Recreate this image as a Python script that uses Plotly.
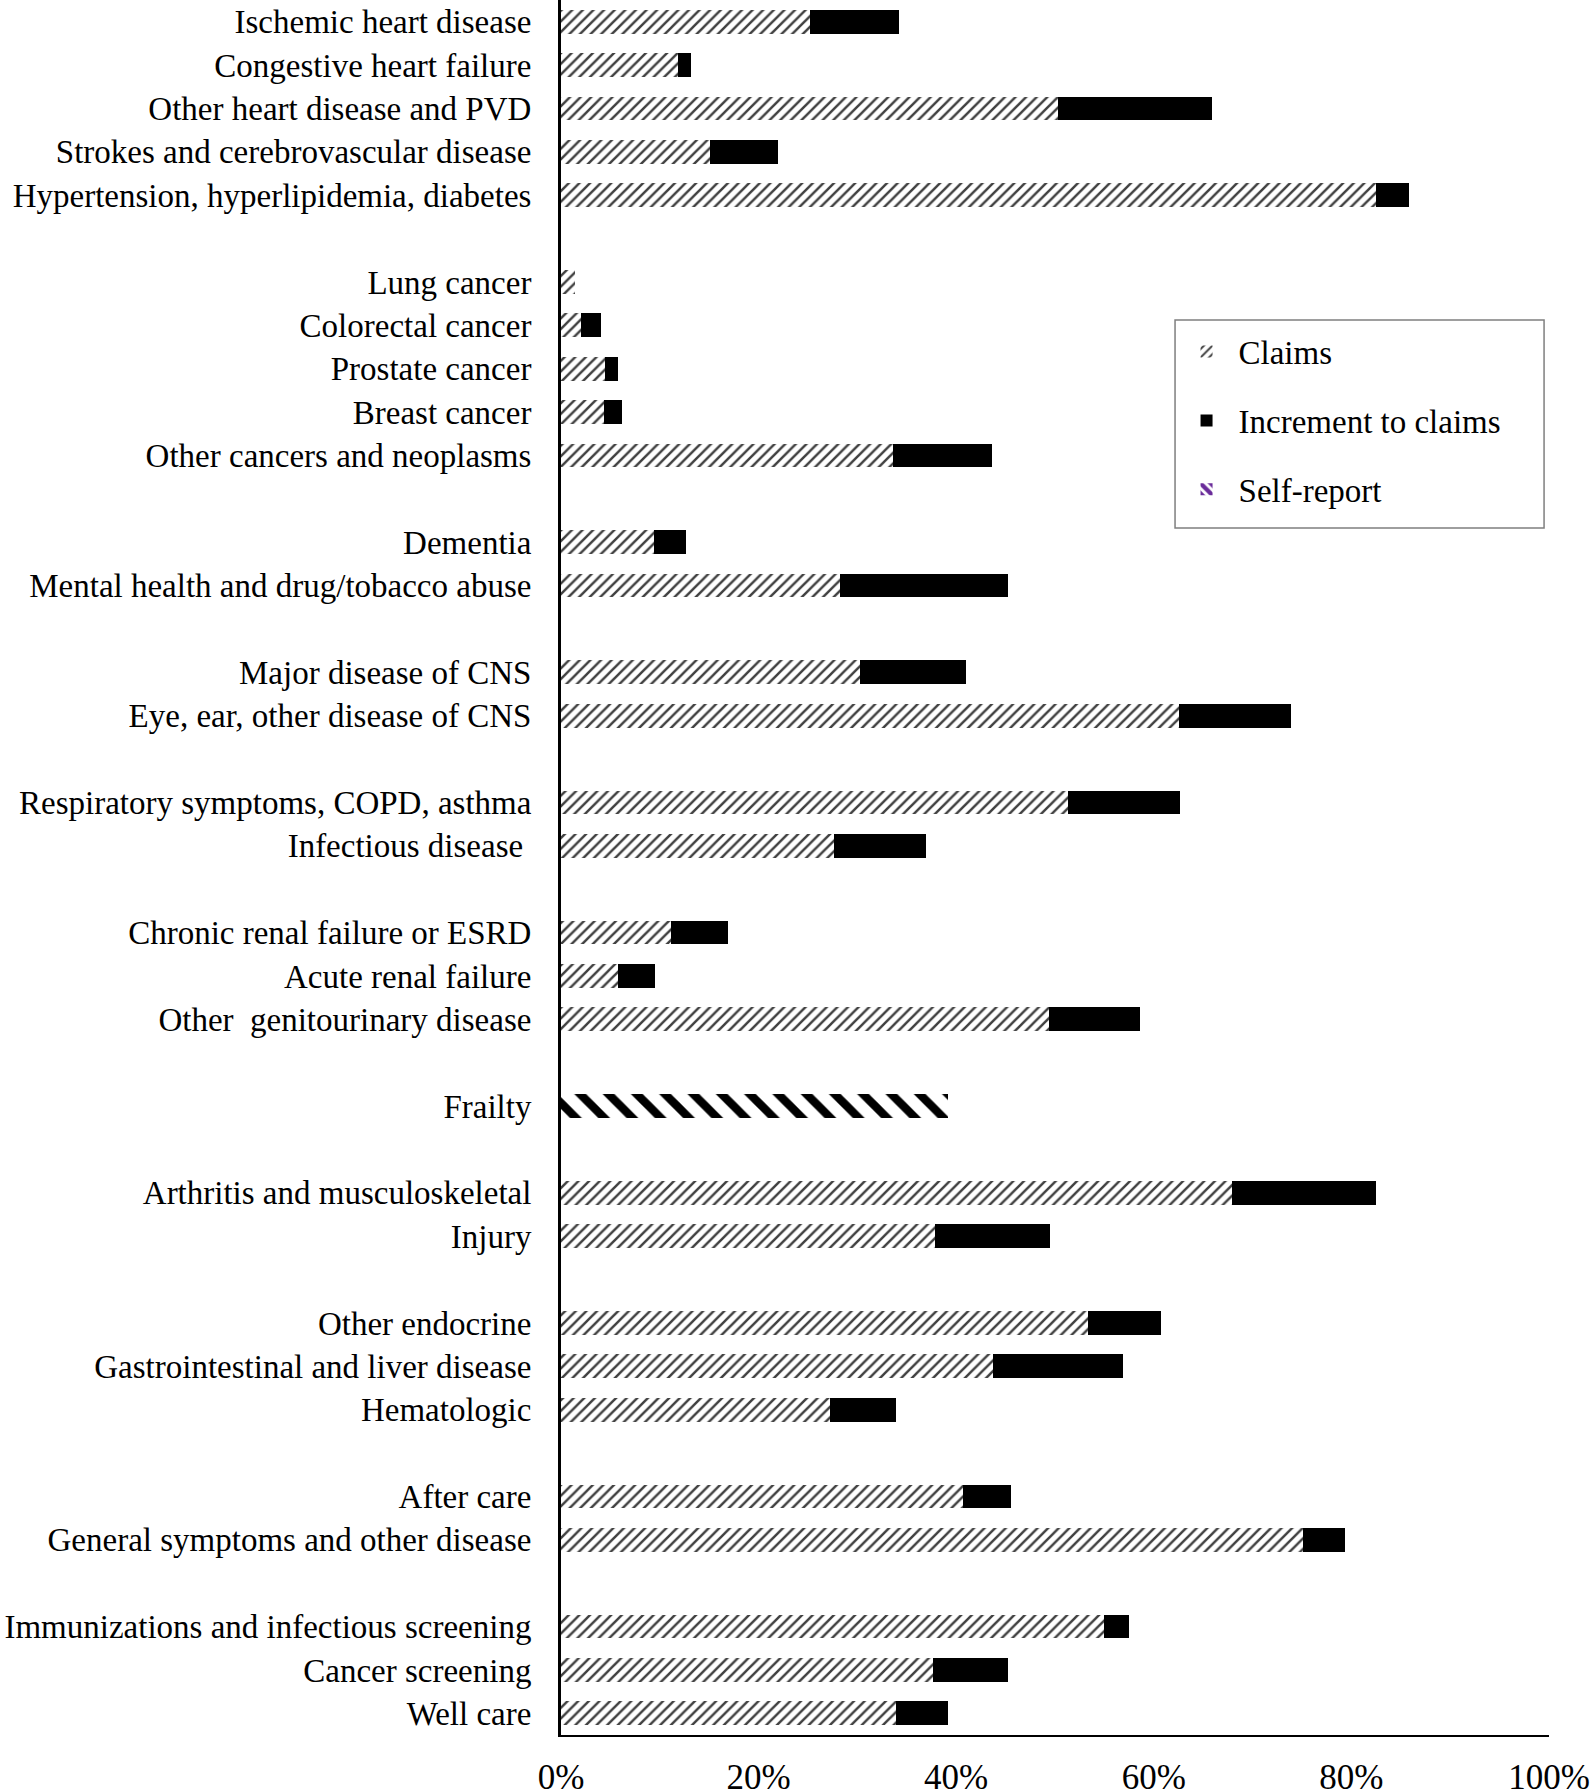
import plotly.graph_objects as go

# ---- data (percent) ----
groups = [
    ["Ischemic heart disease", "Congestive heart failure", "Other heart disease and PVD",
     "Strokes and cerebrovascular disease", "Hypertension, hyperlipidemia, diabetes"],
    ["Lung cancer", "Colorectal cancer", "Prostate cancer", "Breast cancer",
     "Other cancers and neoplasms"],
    ["Dementia", "Mental health and drug/tobacco abuse"],
    ["Major disease of CNS", "Eye, ear, other disease of CNS"],
    ["Respiratory symptoms, COPD, asthma", "Infectious disease "],
    ["Chronic renal failure or ESRD", "Acute renal failure", "Other  genitourinary disease"],
    ["Frailty"],
    ["Arthritis and musculoskeletal", "Injury"],
    ["Other endocrine", "Gastrointestinal and liver disease", "Hematologic"],
    ["After care", "General symptoms and other disease"],
    ["Immunizations and infectious screening", "Cancer screening", "Well care"],
]

claims = [25.2, 11.8, 50.3, 15.1, 82.5,
          1.4, 2.0, 4.5, 4.4, 33.6,
          9.4, 28.2,
          30.3, 62.5,
          51.3, 27.6,
          11.1, 5.8, 49.4,
          None,
          67.9, 37.9,
          53.3, 43.7, 27.2,
          40.7, 75.1,
          55.0, 37.7, 33.9]

increment = [9.0, 1.4, 15.6, 6.9, 3.3,
             0.0, 2.0, 1.3, 1.8, 10.0,
             3.3, 17.0,
             10.7, 11.4,
             11.4, 9.3,
             5.8, 3.7, 9.2,
             None,
             14.6, 11.6,
             7.4, 13.2, 6.7,
             4.8, 4.3,
             2.5, 7.5, 5.3]

self_report_cat = ["Frailty"]
self_report = [39.2]

x_ticks = [0, 20, 40, 60, 80, 100]
x_ticktext = ["0%", "20%", "40%", "60%", "80%", "100%"]

# ---- positions from group structure (one blank row between groups) ----
categories = []
positions = []
pos = 0
for gi, g in enumerate(groups):
    if gi > 0:
        pos += 1
    for name in g:
        categories.append(name)
        positions.append(pos)
        pos += 1
pos_of = dict(zip(categories, positions))

FONT = "Liberation Serif, Times New Roman, serif"
BW = 0.545

fig = go.Figure()
fig.add_trace(go.Bar(
    x=claims, y=positions, orientation="h", name="Claims", width=BW,
    marker=dict(color="white", line=dict(width=0),
                pattern=dict(shape="/", fgcolor="#404040", bgcolor="white",
                             fgopacity=1, size=7.5, solidity=0.33)),
    legendgroup="a",
))
fig.add_trace(go.Bar(
    x=increment, y=positions, orientation="h", name="Increment to claims", width=BW,
    marker=dict(color="black", line=dict(width=0)),
    legendgroup="b",
))
fig.add_trace(go.Bar(
    x=self_report, y=[pos_of[c] for c in self_report_cat], orientation="h",
    name="Self-report", width=BW, showlegend=False,
    marker=dict(color="white", line=dict(width=0),
                pattern=dict(shape="\\", fgcolor="black", bgcolor="white",
                             fgopacity=1, size=20, solidity=0.42)),
    legendgroup="c",
))
# legend swatch for self-report (purple in the original legend)
fig.add_trace(go.Bar(
    x=[0], y=[pos_of[c] for c in self_report_cat], orientation="h",
    name="Self-report", width=BW,
    marker=dict(color="white", line=dict(width=0),
                pattern=dict(shape="\\", fgcolor="#6a2c9a", bgcolor="white",
                             fgopacity=1, size=9, solidity=0.6)),
    legendgroup="c", hoverinfo="skip",
))

fig.update_layout(
    width=1592, height=1791,
    barmode="stack",
    plot_bgcolor="white", paper_bgcolor="white",
    margin=dict(l=561, r=43, t=0, b=56, autoexpand=False),
    font=dict(family=FONT, size=33, color="black"),
    legend=dict(
        x=0.621, y=0.8135, xanchor="left", yanchor="top",
        borderwidth=0, bgcolor="rgba(0,0,0,0)",
        font=dict(family=FONT, size=33, color="black"),
        traceorder="grouped", tracegroupgap=23,
        itemwidth=54,
    ),
    shapes=[dict(type="rect", xref="paper", yref="paper",
                 x0=0.6215, x1=0.995, y0=0.6957, y1=0.8156,
                 line=dict(color="#7f7f7f", width=1.5), fillcolor="rgba(0,0,0,0)",
                 layer="above")],
    xaxis=dict(
        range=[0, 100], tickvals=x_ticks, ticktext=x_ticktext,
        showgrid=False, zeroline=False, automargin=False,
        showline=True, linecolor="black", linewidth=1.5,
        ticks="", tickfont=dict(family=FONT, size=35),
        ticklabelstandoff=10,
    ),
    yaxis=dict(
        range=[positions[-1] + 0.5, -0.5], tickvals=positions, ticktext=categories,
        showgrid=False, zeroline=False, automargin=False,
        showline=True, linecolor="black", linewidth=3,
        ticks="", tickfont=dict(family=FONT, size=33),
        ticklabelstandoff=20,
    ),
)

fig.write_html("out.html", config={"displayModeBar": False},
               post_script="document.body.style.margin='0';document.body.style.padding='0';")
